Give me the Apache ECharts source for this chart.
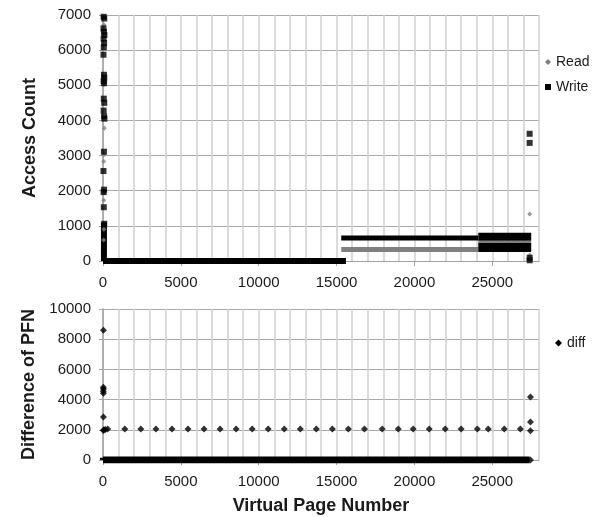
<!DOCTYPE html>
<html>
<head>
<meta charset="utf-8">
<script src="https://cdn.jsdelivr.net/npm/echarts@6/dist/echarts.min.js"></script>
<style>
html,body{margin:0;padding:0;background:#fff;}
#chart{width:592px;height:517px;}
</style>
</head>
<body>
<div id="chart"></div>
<script>
// ---------- data ----------
const xTickValues = [0, 5000, 10000, 15000, 20000, 25000];
const topYTicks = [0, 1000, 2000, 3000, 4000, 5000, 6000, 7000];
const bottomYTicks = [0, 2000, 4000, 6000, 8000, 10000];

// isolated Read points [virtual page, access count]
const readPoints = [
  [60, 6720], [50, 5010], [80, 3780], [60, 3020], [40, 2830], [70, 1950],
  [50, 1730], [60, 900], [40, 600], [27400, 1340], [27400, 170]
];
// dense Read runs [fromPage, toPage, count]
const readRuns = [
  [15300, 24100, 330],
  [24100, 27500, 540]
];

// isolated Write points
const writePoints = [
  [40, 6950], [80, 6900], [30, 6620], [60, 6520], [90, 6430], [40, 6330],
  [70, 6200], [50, 6080], [30, 5870], [60, 5300], [80, 5220], [40, 5120],
  [70, 5060], [50, 4620], [80, 4500], [40, 4280], [70, 4120], [90, 4050],
  [60, 3110], [30, 2560], [70, 2030], [40, 1960], [50, 1530], [80, 1060],
  [27400, 3620], [27400, 3360], [27400, 90], [27400, 20]
];
// dense Write runs [fromPage, toPage, count]
const writeRuns = [
  [0, 15600, 0],
  [15300, 24100, 655],
  [24100, 27500, 690],
  [24100, 27500, 385]
];
// dense Write column near page 0 [page, fromCount, toCount]
const writeColumns = [
  [60, 0, 1100]
];

// isolated diff points [virtual page, PFN difference]
const diffPoints = [
  [30, 8600], [20, 4820], [30, 4700], [20, 4560], [30, 4420], [30, 2850],
  [20, 1950], [60, 2000], [150, 2020], [300, 2050],
  [1400, 2050], [2430, 2050], [3400, 2050], [4430, 2050], [5460, 2050],
  [6490, 2050], [7520, 2050], [8550, 2050], [9580, 2050], [10610, 2050],
  [11640, 2050], [12670, 2050], [13700, 2050], [14730, 2050], [15760, 2050],
  [16790, 2050], [17930, 2050], [18960, 2050], [19920, 2050], [20950, 2050],
  [21980, 2050], [23000, 2050], [24040, 2050], [24740, 2050], [25770, 2050],
  [26800, 2050], [27450, 4170], [27450, 2520], [27450, 1930], [27450, 0]
];
const diffRuns = [
  [0, 27400, 0]
];
const diffColumns = [
  [30, 0, 150]
];

// ---------- styling ----------
const READ_COLOR = '#808080';
const WRITE_COLOR = '#000000';
const DIFF_COLOR = '#000000';
const FONT = '"Liberation Sans", Arial, sans-serif';

function runSeries(name, runs, color, widths, xi, yi) {
  return runs.map((r, i) => ({
    name: name, type: 'line', xAxisIndex: xi, yAxisIndex: yi,
    data: [[r[0], r[2]], [r[1], r[2]]],
    symbol: 'none', silent: true,
    lineStyle: {color: color, width: widths[i], cap: 'butt'},
    itemStyle: {color: color}, animation: false
  }));
}
function columnSeries(name, cols, color, width, xi, yi) {
  return cols.map(c => ({
    name: name, type: 'line', xAxisIndex: xi, yAxisIndex: yi,
    data: [[c[0], c[1]], [c[0], c[2]]],
    symbol: 'none', silent: true,
    lineStyle: {color: color, width: width, cap: 'butt'},
    itemStyle: {color: color}, animation: false
  }));
}

const vGrid = {show: true, lineStyle: {color: '#cfcfcf', width: 1.5}};
const hGrid = {show: true, lineStyle: {color: '#a8a8a8', width: 1}};
const labelStyle = {fontFamily: FONT, fontSize: 15, color: '#1a1a1a'};
const nameStyle = {fontFamily: FONT, fontSize: 18, fontWeight: 'bold', color: '#1a1a1a'};

function gridAxis(gi) {
  return {
    type: 'value', gridIndex: gi, min: 0, max: 28000, interval: 1000,
    position: 'bottom',
    axisLine: {show: true, lineStyle: {color: '#a0a0a0', width: 1}},
    axisTick: {show: false}, axisLabel: {show: false},
    splitLine: vGrid
  };
}
function labelAxis(gi, extra) {
  return Object.assign({
    type: 'value', gridIndex: gi, min: 0, max: 28000, interval: 5000,
    position: 'bottom', offset: 0,
    axisLine: {show: false},
    axisTick: {show: true, length: 5, lineStyle: {color: '#a0a0a0'}},
    axisLabel: Object.assign({margin: 14, showMaxLabel: false,
      formatter: v => (xTickValues.indexOf(v) >= 0 ? String(v) : '')}, labelStyle),
    splitLine: {show: false}
  }, extra || {});
}
function yAxisDef(gi, ticks, interval, name) {
  return {
    type: 'value', gridIndex: gi, min: ticks[0], max: ticks[ticks.length - 1], interval: interval,
    name: name, nameLocation: 'middle', nameGap: 64, nameTextStyle: nameStyle,
    axisLine: {show: true, lineStyle: {color: '#a0a0a0', width: 1.5}},
    axisTick: {show: true, length: 4, lineStyle: {color: '#a0a0a0'}},
    axisLabel: Object.assign({margin: 12,
      formatter: v => (ticks.indexOf(v) >= 0 ? String(v) : '')}, labelStyle),
    splitLine: hGrid
  };
}

const option = {
  backgroundColor: '#ffffff',
  animation: false,
  grid: [
    {left: 103, right: 53, top: 15, height: 246},
    {left: 103, right: 53, top: 309, height: 151}
  ],
  xAxis: [
    gridAxis(0),
    gridAxis(1),
    labelAxis(0),
    labelAxis(1, {name: 'Virtual Page Number', nameLocation: 'middle', nameGap: 37, nameTextStyle: nameStyle})
  ],
  yAxis: [
    yAxisDef(0, topYTicks, 1000, 'Access Count'),
    yAxisDef(1, bottomYTicks, 2000, 'Difference of PFN')
  ],
  legend: [
    {orient: 'vertical', left: 540, top: 50, itemGap: 11, itemWidth: 6, itemHeight: 6,
     textStyle: {fontFamily: FONT, fontSize: 14, color: '#1a1a1a'},
     data: [{name: 'Read', icon: 'diamond', itemStyle: {color: READ_COLOR}},
            {name: 'Write', icon: 'rect', itemStyle: {color: WRITE_COLOR}}],
     selectedMode: false},
    {orient: 'vertical', left: 550, top: 331, itemWidth: 7, itemHeight: 7,
     textStyle: {fontFamily: FONT, fontSize: 14, color: '#1a1a1a'},
     data: [{name: 'diff', icon: 'diamond', itemStyle: {color: DIFF_COLOR}}],
     selectedMode: false}
  ],
  series: [].concat(
    runSeries('Read', readRuns, READ_COLOR, [5, 2], 0, 0),
    [{name: 'Read', type: 'scatter', xAxisIndex: 0, yAxisIndex: 0, data: readPoints,
      symbol: 'diamond', symbolSize: 5, itemStyle: {color: READ_COLOR}, z: 3}],
    runSeries('Write', writeRuns, WRITE_COLOR, [6, 5, 8, 9], 0, 0),
    columnSeries('Write', writeColumns, WRITE_COLOR, 6, 0, 0),
    [{name: 'Write', type: 'scatter', xAxisIndex: 0, yAxisIndex: 0, data: writePoints,
      symbol: 'rect', symbolSize: 6, itemStyle: {color: WRITE_COLOR}, z: 4}],
    runSeries('diff', diffRuns, DIFF_COLOR, [7], 1, 1),
    columnSeries('diff', diffColumns, DIFF_COLOR, 7, 1, 1),
    [{name: 'diff', type: 'scatter', xAxisIndex: 1, yAxisIndex: 1, data: diffPoints,
      symbol: 'diamond', symbolSize: 7, itemStyle: {color: DIFF_COLOR}, z: 4}]
  )
};

const chart = echarts.init(document.getElementById('chart'), null, {renderer: 'canvas'});
chart.setOption(option);
</script>
</body>
</html>
